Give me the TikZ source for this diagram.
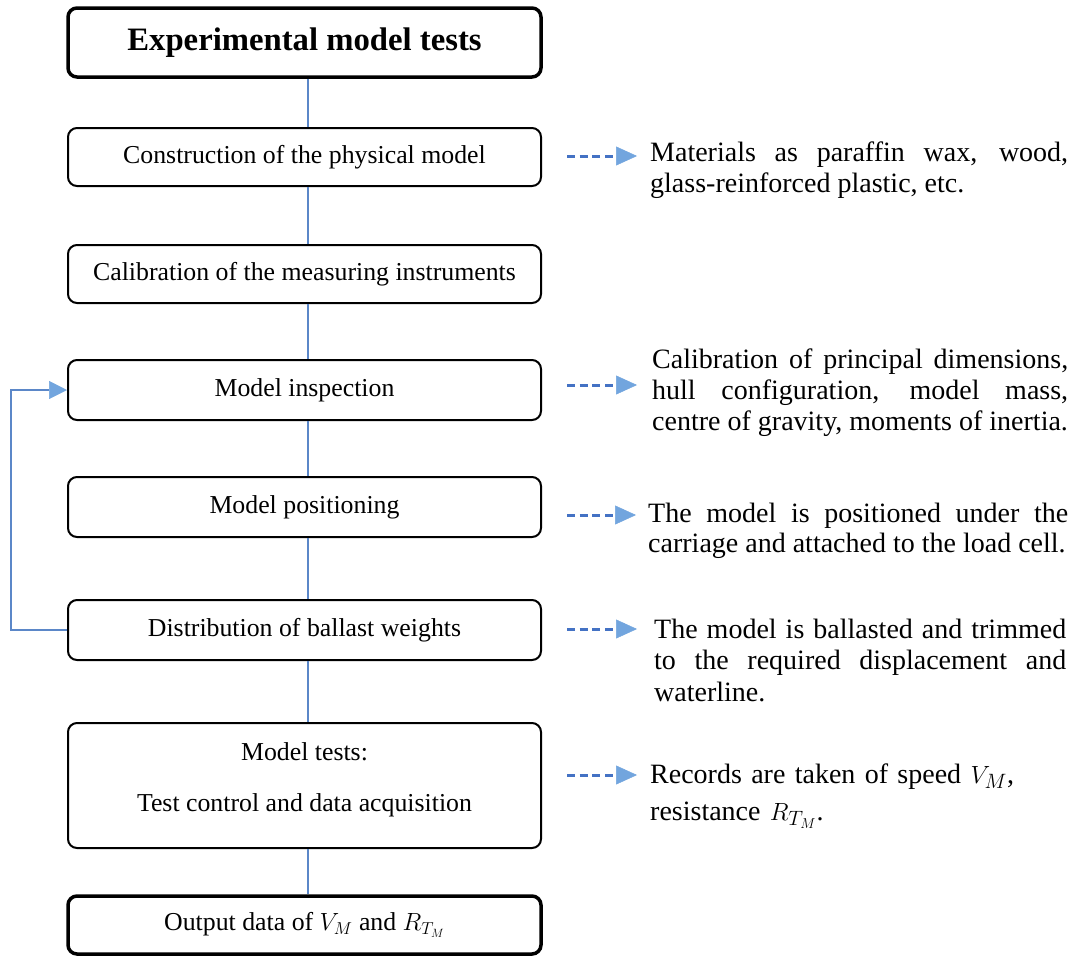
\documentclass[tikz,border=0pt]{standalone}
\usepackage{fontspec}
\setmainfont{Liberation Serif}
\usetikzlibrary{arrows.meta}
\definecolor{connc}{HTML}{5B87C8}
\definecolor{dashc}{HTML}{4472C4}
\definecolor{tipc}{HTML}{72A5DE}
\tolerance=9999
\hyphenpenalty=10000
\begin{document}
\begin{tikzpicture}[x=1pt,y=-1pt,
  box/.style={draw=black, line width=2pt, rounded corners=9pt, minimum width=473pt,
    minimum height=58pt, inner sep=0pt, align=center, font=\fontsize{25.8}{30}\selectfont},
  thickbox/.style={box, line width=3.5pt},
  boxtext/.style={inner sep=0pt, font=\fontsize{25.8}{30}\selectfont},
  conn/.style={draw=connc, line width=1.3pt},
  fb/.style={draw=connc, line width=1.3pt,
    -{Triangle[length=18pt,width=18pt,line width=0.5pt,color=tipc,fill=tipc]}},
  dasharrow/.style={draw=dashc, line width=3pt, dash pattern=on 8pt off 4.7pt,
    -{Triangle[length=21pt,width=19pt,line width=0.5pt,color=tipc,fill=tipc]}},
  rtext/.style={anchor=base west, inner sep=0pt, align=justify,
    font=\fontsize{28}{31}\selectfont},
]
\useasboundingbox (0,0) rectangle (1070,959);

% boxes
\node[thickbox, minimum height=69pt, font=\fontsize{32.7}{36}\selectfont\bfseries] (b1) at (304.5,42.5) {Experimental model tests};
\node[box] (b2) at (304.5,157) {Construction of the physical model};
\node[box] (b3) at (304.5,274) {Calibration of the measuring instruments};
\node[box, minimum height=60pt] (b4) at (304.5,390) {Model inspection};
\node[box, minimum height=60pt] (b5) at (304.5,507) {Model positioning};
\node[box, minimum height=60pt] (b6) at (304.5,630) {Distribution of ballast weights};
\node[box, minimum height=125pt] (b7) at (304.5,785.5) {};
\node[boxtext] (b7a) at (304.5,752) {Model tests:};
\node[boxtext] (b7b) at (304.5,805) {Test control and data acquisition};
\node[thickbox] (b8) at (304.5,925) {Output data of $V_M$ and $R_{T_M}$};

% vertical connectors
\coordinate (lx) at (308,0);
\draw[conn] (b1.south -| lx) -- (b2.north -| lx);
\draw[conn] (b2.south -| lx) -- (b3.north -| lx);
\draw[conn] (b3.south -| lx) -- (b4.north -| lx);
\draw[conn] (b4.south -| lx) -- (b5.north -| lx);
\draw[conn] (b5.south -| lx) -- (b6.north -| lx);
\draw[conn] (b6.south -| lx) -- (b7.north -| lx);
\draw[conn] (b7.south -| lx) -- (b8.north -| lx);

% feedback loop
\coordinate (fx) at (11,0);
\draw[fb] (b6.west) -- (b6.west -| fx) -- (b4.west -| fx) -- (b4.west);

% dashed arrows
\coordinate (d1s) at (567,156); \coordinate (d1e) at (637,156);
\coordinate (d2s) at (567,385); \coordinate (d2e) at (637,385);
\coordinate (d3s) at (567,515); \coordinate (d3e) at (636,515);
\coordinate (d4s) at (567,629); \coordinate (d4e) at (637,629);
\coordinate (d5s) at (567,775); \coordinate (d5e) at (637,775);
\draw[dasharrow] (d1s) -- (d1e);
\draw[dasharrow] (d2s) -- (d2e);
\draw[dasharrow] (d3s) -- (d3e);
\draw[dasharrow] (d4s) -- (d4e);
\draw[dasharrow] (d5s) -- (d5e);

% right texts
\node[rtext, text width=418pt] (t1) at (650,161) {Materials as paraffin wax, wood,\linebreak glass-reinforced plastic, etc.};
\node[rtext, text width=416pt] (t2) at (652,368) {Calibration of principal dimensions,\linebreak hull configuration, model mass,\linebreak centre of gravity, moments of inertia.};
\node[rtext, text width=420pt, font=\fontsize{28}{30.5}\selectfont] (t3) at (648,522) {The model is positioned under the\linebreak carriage and attached to the load cell.};
\node[rtext, text width=412pt, font=\fontsize{28}{31.5}\selectfont] (t4) at (654,638) {The model is ballasted and trimmed\linebreak to the required displacement and\linebreak waterline.};
\node[rtext, text width=418pt, align=left] (t5) at (650,783) {Records are taken of speed $V_M$,\\[6pt] resistance $R_{T_M}$.};
\end{tikzpicture}
\end{document}
